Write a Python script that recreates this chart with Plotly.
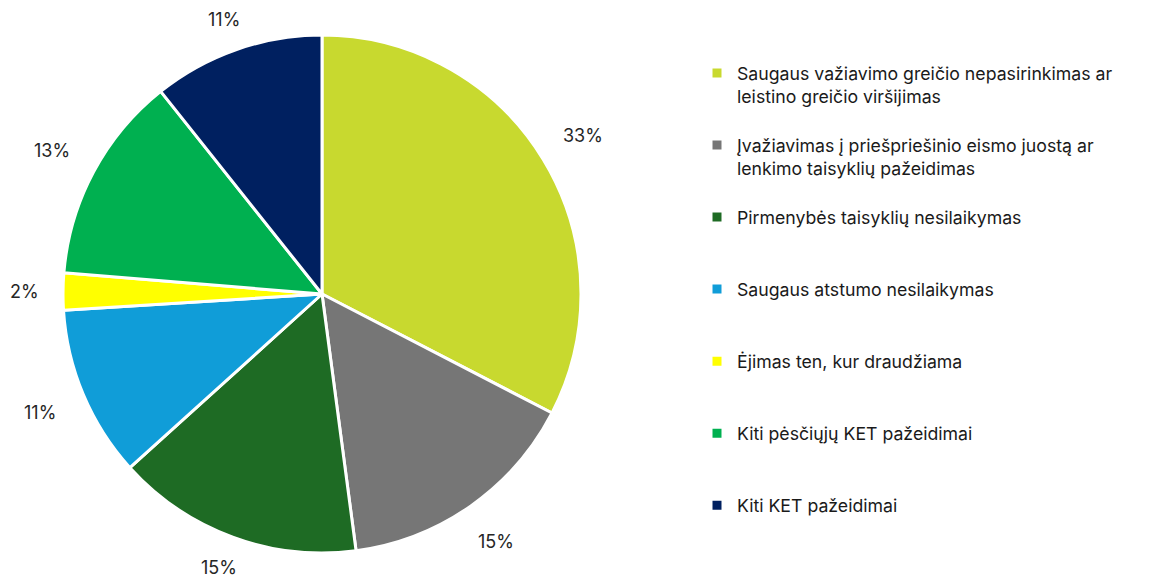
import numpy as np
import plotly.graph_objects as go

labels = [
    "Saugaus važiavimo greičio nepasirinkimas ar<br>leistino greičio viršijimas",
    "Įvažiavimas į priešpriešinio eismo juostą ar<br>lenkimo taisyklių pažeidimas",
    "Pirmenybės taisyklių nesilaikymas",
    "Saugaus atstumo nesilaikymas",
    "Ėjimas ten, kur draudžiama",
    "Kiti pėsčiųjų KET pažeidimai",
    "Kiti KET pažeidimai",
]
values = [32.6, 15.3, 15.4, 10.7, 2.3, 13.0, 10.7]
colors = ["#C8D92F", "#767676", "#1E6B24", "#109DD8", "#FFFF00", "#00B050", "#002060"]

W, H = 1151, 578
# pad each legend entry to 3 lines for uniform spacing
legend_labels = []
for lab in labels:
    n = lab.count("<br>") + 1
    legend_labels.append(lab + "<br> " * (3 - n))

cx_px, cy_px, r_px = 322, 294, 259
dom_x = [(cx_px - r_px) / W, (cx_px + r_px) / W]
dom_y = [(H - cy_px - r_px) / H, (H - cy_px + r_px) / H]

fig = go.Figure(go.Pie(
    labels=legend_labels,
    values=values,
    sort=False,
    direction="clockwise",
    rotation=0,
    marker=dict(colors=colors, line=dict(color="white", width=3)),
    textinfo="none",
    hoverinfo="label+percent",
    domain=dict(x=dom_x, y=dom_y),
))

vals = np.array(values, dtype=float)
frac = vals / vals.sum()
mids = (np.cumsum(frac) - frac / 2) * 2 * np.pi
gap, box_h = 24, 18
for f, a in zip(frac, mids):
    txt = f"{round(f * 100):.0f}%"
    box_w = 14 * len(txt)
    s, c = np.sin(a), np.cos(a)
    half = abs(s) * box_w / 2 + abs(c) * box_h / 2
    rr = r_px + gap + half
    px = cx_px + rr * s
    py = min(max(cy_px - rr * c, 20), 567)
    fig.add_annotation(
        x=px / W, y=(H - py) / H, xref="paper", yref="paper",
        text=txt, showarrow=False,
        font=dict(size=18, color="#262626", family="Inter"),
        xanchor="center", yanchor="middle",
    )

fig.update_layout(
    width=W, height=H,
    margin=dict(l=0, r=0, t=0, b=0),
    paper_bgcolor="white",
    plot_bgcolor="white",
    font=dict(family="Inter", size=17.7, color="#1a1a1a"),
    showlegend=True,
    legend=dict(
        x=697 / W, y=(H - 55) / H, xanchor="left", yanchor="top",
        valign="top", itemwidth=30,
        font=dict(size=17.7, family="Inter", color="#1a1a1a"),
        bgcolor="rgba(0,0,0,0)",
    ),
)

fig.write_html(
    "out.html",
    config={"displayModeBar": False},
    post_script="document.body.style.margin='0';document.body.style.overflow='hidden';",
)
